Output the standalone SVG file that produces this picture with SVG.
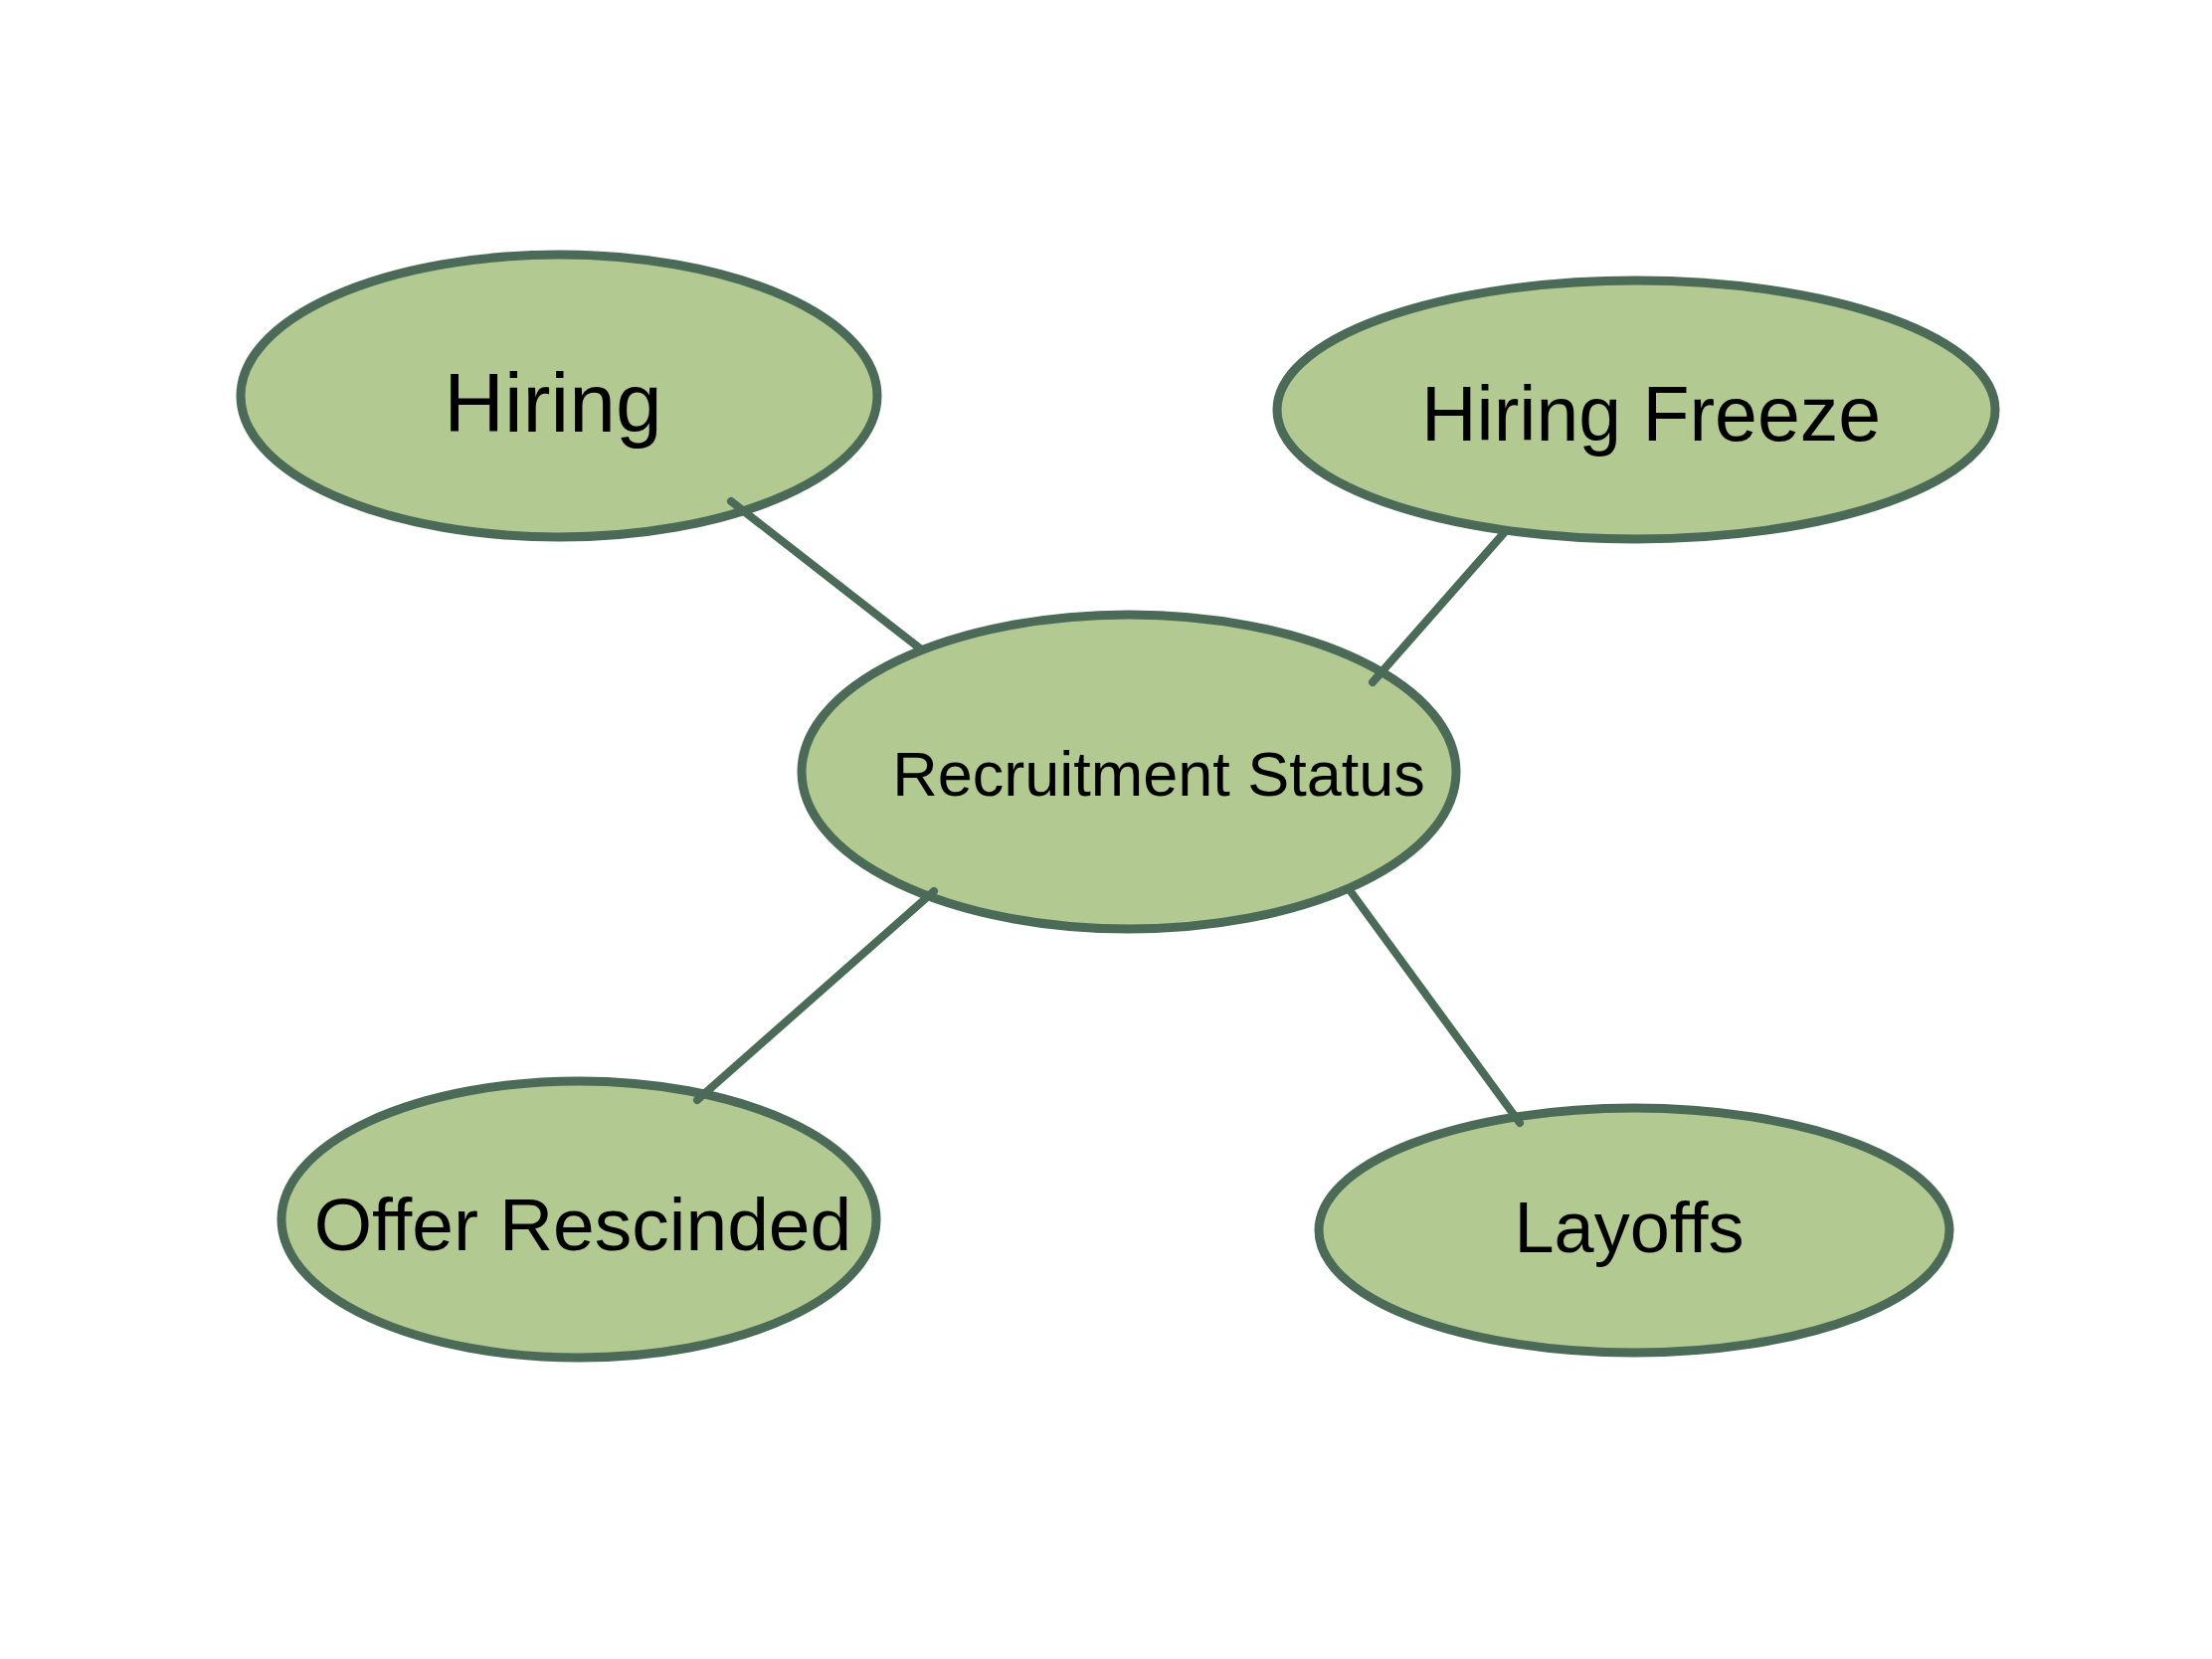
<svg xmlns="http://www.w3.org/2000/svg" width="2224" height="1668" viewBox="0 0 2224 1668">
<style>
.node{fill:#b3c992;stroke:#4b6a58;stroke-width:9}
.lbl{font-family:"Liberation Sans",Arial,sans-serif;fill:#000;text-anchor:middle}
.edge{stroke:#4b6a58;stroke-width:8;stroke-linecap:round;fill:none}
</style>
<rect width="2224" height="1668" fill="#fff"/>
<g id="node-hiring">
<ellipse class="node" cx="562" cy="398" rx="320" ry="142"/>
<text class="lbl" x="556" y="434" font-size="84">Hiring</text>
</g>
<g id="node-hiring-freeze">
<ellipse class="node" cx="1645" cy="412" rx="361" ry="130"/>
<text class="lbl" x="1660" y="443" font-size="77">Hiring Freeze</text>
</g>
<g id="node-recruitment-status">
<ellipse class="node" cx="1135" cy="776" rx="329" ry="158"/>
<text class="lbl" x="1165" y="800" font-size="63">Recruitment Status</text>
</g>
<g id="node-offer-rescinded">
<ellipse class="node" cx="582" cy="1226" rx="299" ry="139"/>
<text class="lbl" x="586" y="1257" font-size="75">Offer Rescinded</text>
</g>
<g id="node-layoffs">
<ellipse class="node" cx="1643" cy="1237" rx="317" ry="123"/>
<text class="lbl" x="1638" y="1259" font-size="72">Layoffs</text>
</g>
<g id="connectors">
<line class="edge" x1="735" y1="504" x2="925" y2="652"/>
<line class="edge" x1="1512" y1="536" x2="1380" y2="686"/>
<line class="edge" x1="939" y1="896" x2="701" y2="1106"/>
<line class="edge" x1="1357" y1="895" x2="1528" y2="1129"/>
</g>
</svg>
